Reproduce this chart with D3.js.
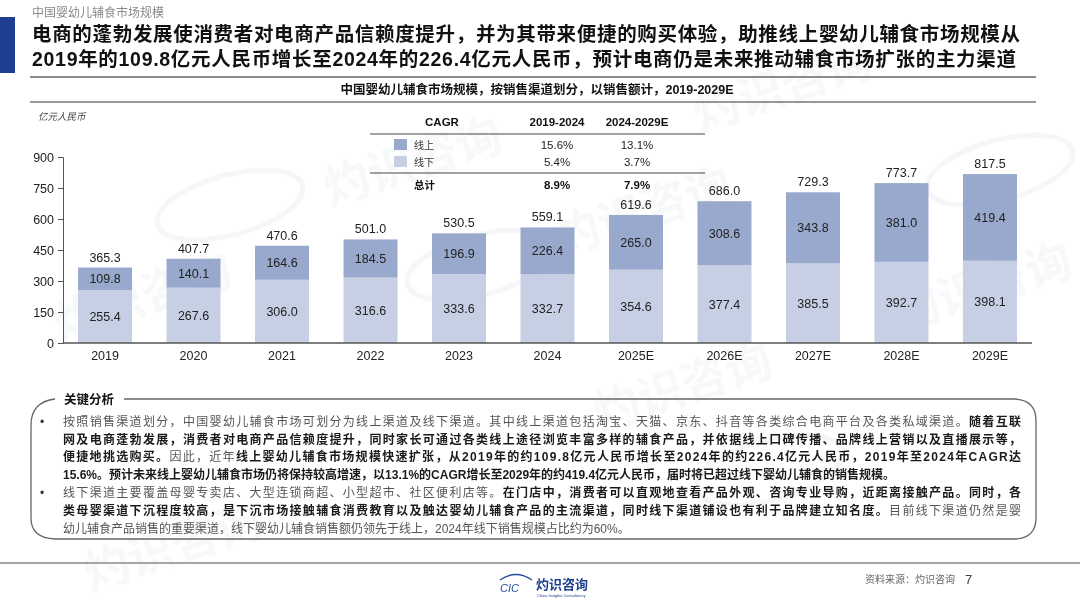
<!DOCTYPE html>
<html><head><meta charset="utf-8">
<script src="https://cdn.jsdelivr.net/npm/d3@7"></script>
<style>
html,body{margin:0;padding:0;background:#fff;}
svg{display:block;font-family:"Liberation Sans","Noto Sans CJK SC",sans-serif;}
</style></head>
<body>
<svg id="c" width="1080" height="608"></svg>
<script>
const years = ["2019","2020","2021","2022","2023","2024","2025E","2026E","2027E","2028E","2029E"];
const offline = [255.4,267.6,306.0,316.6,333.6,332.7,354.6,377.4,385.5,392.7,398.1];
const online = [109.8,140.1,164.6,184.5,196.9,226.4,265.0,308.6,343.8,381.0,419.4];
const totals = [365.3,407.7,470.6,501.0,530.5,559.1,619.6,686.0,729.3,773.7,817.5];
const yTicks = [0,150,300,450,600,750,900];
const cagrHeader = ["CAGR","2019-2024","2024-2029E"];
const cagrNames = ["线上","线下"];
const cagr1924 = ["15.6%","5.4%"];
const cagr2429 = ["13.1%","3.7%"];
const cagrTotal = ["总计","8.9%","7.9%"];

const cOnline = "#98a9cd", cOffline = "#c6cfe4";
const CJK = "'Noto Sans CJK SC',sans-serif";
const svg = d3.select("#c");

// watermarks
const wm = svg.append("g").attr("fill","#8a94a8").attr("opacity",0.07).attr("font-family",CJK).attr("font-weight","bold");
[[60,340],[330,205],[700,130],[900,330],[560,255],[90,590],[600,430]].forEach(([x,y])=>{
  wm.append("text").attr("transform",`translate(${x},${y}) rotate(-18)`).attr("font-size",46).text("灼识咨询");
});
const wm2 = svg.append("g").attr("fill","none").attr("stroke","#8a94a8").attr("opacity",0.09).attr("stroke-width",5);
[[230,205],[480,265],[770,470],[1000,170]].forEach(([x,y])=>{
  wm2.append("ellipse").attr("cx",x).attr("cy",y).attr("rx",75).attr("ry",30).attr("transform",`rotate(-15,${x},${y})`);
});

// header
svg.append("rect").attr("x",0).attr("y",17).attr("width",15).attr("height",56).attr("fill","#1e3f8f");
svg.append("text").attr("x",32).attr("y",17).attr("font-size",12).attr("fill","#8a8a8a").attr("font-family",CJK).text("中国婴幼儿辅食市场规模");
svg.append("text").attr("x",32).attr("y",41).attr("font-size",19.5).attr("font-weight","bold").attr("fill","#111").attr("font-family",CJK)
  .attr("textLength",988).attr("lengthAdjust","spacing")
  .text("电商的蓬勃发展使消费者对电商产品信赖度提升，并为其带来便捷的购买体验，助推线上婴幼儿辅食市场规模从");
svg.append("text").attr("x",32).attr("y",66).attr("font-size",19.5).attr("font-weight","bold").attr("fill","#111").attr("font-family","'Liberation Sans','Noto Sans CJK SC',sans-serif")
  .attr("textLength",984).attr("lengthAdjust","spacing")
  .text("2019年的109.8亿元人民币增长至2024年的226.4亿元人民币，预计电商仍是未来推动辅食市场扩张的主力渠道");
svg.append("line").attr("x1",30).attr("x2",1036).attr("y1",77).attr("y2",77).attr("stroke","#666").attr("stroke-width",1.5);

// chart subtitle
svg.append("text").attr("x",537).attr("y",94).attr("text-anchor","middle").attr("font-size",12.5).attr("font-weight","bold").attr("fill","#111")
  .text("中国婴幼儿辅食市场规模，按销售渠道划分，以销售额计，2019-2029E");
svg.append("line").attr("x1",30).attr("x2",1036).attr("y1",102).attr("y2",102).attr("stroke","#333").attr("stroke-width",1);

svg.append("text").attr("x",38).attr("y",120).attr("font-size",9.5).attr("font-style","italic").attr("fill","#444").attr("font-family",CJK).text("亿元人民币");

// scales
const x = d3.scaleBand().domain(years).range([63,1032]).paddingInner(0.39).paddingOuter(0.17);
const y = d3.scaleLinear().domain([0,900]).range([343,157]);

// bars
const g = svg.append("g");
years.forEach((yr,i)=>{
  const x0 = x(yr), w = x.bandwidth();
  g.append("rect").attr("x",x0).attr("width",w).attr("y",y(offline[i])).attr("height",y(0)-y(offline[i])).attr("fill",cOffline);
  g.append("rect").attr("x",x0).attr("width",w).attr("y",y(offline[i]+online[i])).attr("height",y(offline[i])-y(offline[i]+online[i])).attr("fill",cOnline);
  const cx = x0 + w/2;
  g.append("text").attr("x",cx).attr("y",y(offline[i]/2)+4.5).attr("text-anchor","middle").attr("font-size",12.5).attr("fill","#222").text(offline[i].toFixed(1));
  g.append("text").attr("x",cx).attr("y",y(offline[i]+online[i]/2)+4.5).attr("text-anchor","middle").attr("font-size",12.5).attr("fill","#222").text(online[i].toFixed(1));
  g.append("text").attr("x",cx).attr("y",y(offline[i]+online[i])-6).attr("text-anchor","middle").attr("font-size",12.5).attr("fill","#222").text(totals[i].toFixed(1));
});

// axes
const ya = svg.append("g").attr("transform","translate(63,0)").call(d3.axisLeft(y).tickValues(yTicks).tickSize(5).tickPadding(4));
ya.select(".domain").attr("stroke","#555");
ya.selectAll(".tick line").attr("stroke","#555");
ya.selectAll("text").attr("font-size",12.5).attr("fill","#222").attr("font-family","'Liberation Sans',sans-serif");
const xa = svg.append("g").attr("transform","translate(0,343)").call(d3.axisBottom(x).tickSize(0).tickPadding(8));
xa.select(".domain").attr("stroke","#555").attr("stroke-width",1.5).attr("d","M63,0H1032");
xa.selectAll("text").attr("font-size",12.5).attr("fill","#222").attr("font-family","'Liberation Sans',sans-serif");

// CAGR table
const tb = svg.append("g");
const colX = [442,557,637];
cagrHeader.forEach((h,i)=>tb.append("text").attr("x",colX[i]).attr("y",126).attr("text-anchor","middle").attr("font-size",11.5).attr("font-weight","bold").attr("fill","#111").text(h));
tb.append("line").attr("x1",370).attr("x2",705).attr("y1",134).attr("y2",134).attr("stroke","#444");
const rowY = [145,162];
const rowCol = [cOnline,cOffline];
cagrNames.forEach((n,i)=>{
  tb.append("rect").attr("x",394).attr("y",rowY[i]-6).attr("width",13).attr("height",11).attr("fill",rowCol[i]);
  tb.append("text").attr("x",414).attr("y",rowY[i]+4).attr("font-size",10).attr("fill","#333").attr("font-family",CJK).text(n);
  tb.append("text").attr("x",colX[1]).attr("y",rowY[i]+4).attr("text-anchor","middle").attr("font-size",11.5).attr("fill","#222").text(cagr1924[i]);
  tb.append("text").attr("x",colX[2]).attr("y",rowY[i]+4).attr("text-anchor","middle").attr("font-size",11.5).attr("fill","#222").text(cagr2429[i]);
});
tb.append("line").attr("x1",370).attr("x2",705).attr("y1",173).attr("y2",173).attr("stroke","#444");
tb.append("text").attr("x",414).attr("y",189).attr("font-size",10.5).attr("font-weight","bold").attr("fill","#111").attr("font-family",CJK).text(cagrTotal[0]);
tb.append("text").attr("x",colX[1]).attr("y",189).attr("text-anchor","middle").attr("font-size",11.5).attr("font-weight","bold").attr("fill","#111").text(cagrTotal[1]);
tb.append("text").attr("x",colX[2]).attr("y",189).attr("text-anchor","middle").attr("font-size",11.5).attr("font-weight","bold").attr("fill","#111").text(cagrTotal[2]);

// key analysis box
svg.append("path").attr("fill","none").attr("stroke","#666").attr("stroke-width",1.3)
  .attr("d","M55,399 Q31,402 31,425 L31,518 Q31,538 55,539 L1015,539 Q1036,538 1036,518 L1036,421 Q1036,400 1015,399 L124,399");
svg.append("text").attr("x",64).attr("y",404).attr("font-size",12.5).attr("font-weight","bold").attr("fill","#111").attr("font-family",CJK).text("关键分析");

const lines = [
  {y:426, full:true, bullet:true, parts:[["按照销售渠道划分，中国婴幼儿辅食市场可划分为线上渠道及线下渠道。其中线上渠道包括淘宝、天猫、京东、抖音等各类综合电商平台及各类私域渠道。",0],["随着互联",1]]},
  {y:444, full:true, parts:[["网及电商蓬勃发展，消费者对电商产品信赖度提升，同时家长可通过各类线上途径浏览丰富多样的辅食产品，并依据线上口碑传播、品牌线上营销以及直播展示等，",1]]},
  {y:461, full:true, parts:[["便捷地挑选购买。",1],["因此，近年",0],["线上婴幼儿辅食市场规模快速扩张，从2019年的约109.8亿元人民币增长至2024年的约226.4亿元人民币，2019年至2024年CAGR达",1]]},
  {y:479, parts:[["15.6%。预计未来线上婴幼儿辅食市场仍将保持较高增速，以13.1%的CAGR增长至2029年的约419.4亿元人民币，届时将已超过线下婴幼儿辅食的销售规模。",1]]},
  {y:497, full:true, bullet:true, parts:[["线下渠道主要覆盖母婴专卖店、大型连锁商超、小型超市、社区便利店等。",0],["在门店中，消费者可以直观地查看产品外观、咨询专业导购，近距离接触产品。同时，各",1]]},
  {y:515, full:true, parts:[["类母婴渠道下沉程度较高，是下沉市场接触辅食消费教育以及触达婴幼儿辅食产品的主流渠道，同时线下渠道铺设也有利于品牌建立知名度。",1],["目前线下渠道仍然是婴",0]]},
  {y:533, parts:[["幼儿辅食产品销售的重要渠道，线下婴幼儿辅食销售额仍领先于线上，2024年线下销售规模占比约为60%。",0]]}
];
lines.forEach(l=>{
  if(l.bullet) svg.append("text").attr("x",40).attr("y",l.y).attr("font-size",12).attr("fill","#333").text("•");
  const t = svg.append("text").attr("x",63).attr("y",l.y).attr("font-size",12).attr("font-family","'Liberation Sans','Noto Sans CJK SC',sans-serif");
  if(l.full) t.attr("textLength",958).attr("lengthAdjust","spacing");
  l.parts.forEach(([s,b])=>t.append("tspan").attr("font-weight",b?"bold":"normal").attr("fill",b?"#1a1a1a":"#555").text(s));
});

// footer
svg.append("line").attr("x1",0).attr("x2",1080).attr("y1",563).attr("y2",563).attr("stroke","#888").attr("stroke-width",1.5);
const lg = svg.append("g");
lg.append("path").attr("d","M500,580 Q516,569 532,580").attr("fill","none").attr("stroke","#2a4b9b").attr("stroke-width",1.5);
lg.append("text").attr("x",500).attr("y",592).attr("font-size",11).attr("font-style","italic").attr("fill","#2a4b9b").text("CIC");
lg.append("text").attr("x",536).attr("y",589).attr("font-size",13).attr("font-weight","bold").attr("fill","#1e3f8f").attr("font-family",CJK).text("灼识咨询");
lg.append("text").attr("x",537).attr("y",597).attr("font-size",4).attr("fill","#1e3f8f").text("China Insights Consultancy");
svg.append("text").attr("x",955).attr("y",583).attr("text-anchor","end").attr("font-size",10).attr("fill","#666").attr("font-family",CJK).text("资料来源：灼识咨询");
svg.append("text").attr("x",965).attr("y",584).attr("font-size",13).attr("fill","#444").text("7");
</script>
</body></html>
